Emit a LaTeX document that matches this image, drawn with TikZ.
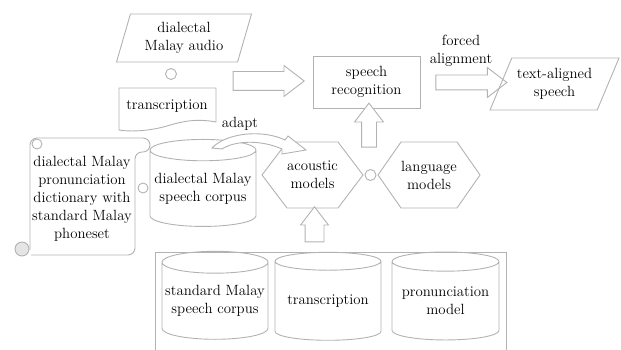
\documentclass[tikz,border=0pt]{standalone}
\usetikzlibrary{shapes.geometric, shapes.arrows, positioning}

\begin{document}
\begin{tikzpicture}[x=1pt, y=-1pt,
    every node/.style={font=\fontsize{14.8}{18}\selectfont, align=center, inner sep=0pt},
    line/.style={draw=gray!60, line width=0.9pt},
    dbase/.style={line, cylinder, shape border rotate=90, aspect=0.22, minimum width=106, minimum height=88},
    datain/.style={line, trapezium, trapezium stretches body, minimum height=#1},
    hollow/.style={line, single arrow, single arrow tip angle=75, fill=white},
    joint/.style={line, circle, minimum size=11}]
    \useasboundingbox (0,0) rectangle (621,350);

    \node[datain=48, trapezium left angle=66, trapezium right angle=114, minimum width=135] (audio) at (184,38) {dialectal\\Malay audio};
    \node[joint] (j1) at (171,74) {};
    \node (trans) at (167,106) {transcription};
    \draw[line] (119,88) -- (216,88) -- (216,122) .. controls (195,118) and (180,122) .. (167,126)
        .. controls (150,131) and (130,132) .. (119,130) -- cycle;

    \node[hollow, minimum height=71, single arrow head extend=6] (toSR) at (262.5,81) {\rule{0pt}{18pt}};
    \node[line, draw, minimum width=107, minimum height=52] (SR) at (366.5,82) {speech\\recognition};
    \node[hollow, minimum height=71, single arrow head extend=7.5] (toTA) at (466.5,82.5) {\rule{0pt}{14pt}};
    \node (forced) at (461,51) {forced\\alignment};
    \node[datain=52, trapezium left angle=55, trapezium right angle=125, minimum width=129] (TA) at (554.5,84) {text-aligned\\speech};

    \node (AM) at (312.5,175) {acoustic\\models};
    \draw[line] (AM.center) ++(-50.5,0) -- ++(25,-33) -- ++(51,0) -- ++(25,33) -- ++(-25,33) -- ++(-51,0) -- cycle;
    \node (LM) at (429,175) {language\\models};
    \draw[line] (LM.center) ++(-51,0) -- ++(23,-33) -- ++(56,0) -- ++(23,33) -- ++(-23,33) -- ++(-56,0) -- cycle;
    \node[joint] (j2) at (370.5,175) {};
    \node[hollow, rotate=90, minimum height=44, single arrow head extend=7] (up1) at (369,130) {\rule{0pt}{14pt}};
    \node[hollow, rotate=90, minimum height=35, single arrow head extend=4.5] (up2) at (314.5,230.5) {\rule{0pt}{18pt}};

    \node[dbase, minimum height=87] (DC) at (203,188.5) {dialectal Malay\\speech corpus};
    \node[joint, minimum size=10] (j3) at (143,188) {};

    \draw[line, rounded corners=7] (30,250) -- (30,138) -- (150,138) -- (150,152) -- (135,152) -- (135,255) -- (31,255);
    \draw[line] (37,144) circle [radius=5];
    \draw[line, fill=gray!20] (22,249) circle [radius=7];
    \node (dict) at (82,199) {dialectal Malay\\pronunciation\\dictionary with\\standard Malay\\phoneset};

    \draw[line, fill=white] (212,148) .. controls (226,133) and (262,129) .. (285,140) -- (288,136) -- (306,150)
        -- (282,154) -- (282,149) .. controls (262,140) and (236,140) .. (222,149) -- cycle;
    \node (adapt) at (240,124) {adapt};

    \draw[line] (155,352) -- (155,252) -- (506,252) -- (506,352);
    \node[dbase] (SC) at (215,301) {standard Malay\\speech corpus};
    \node[dbase] (TR) at (328,301) {transcription};
    \node[dbase, minimum width=107] (PM) at (445.5,301) {pronunciation\\model};
\end{tikzpicture}
\end{document}
